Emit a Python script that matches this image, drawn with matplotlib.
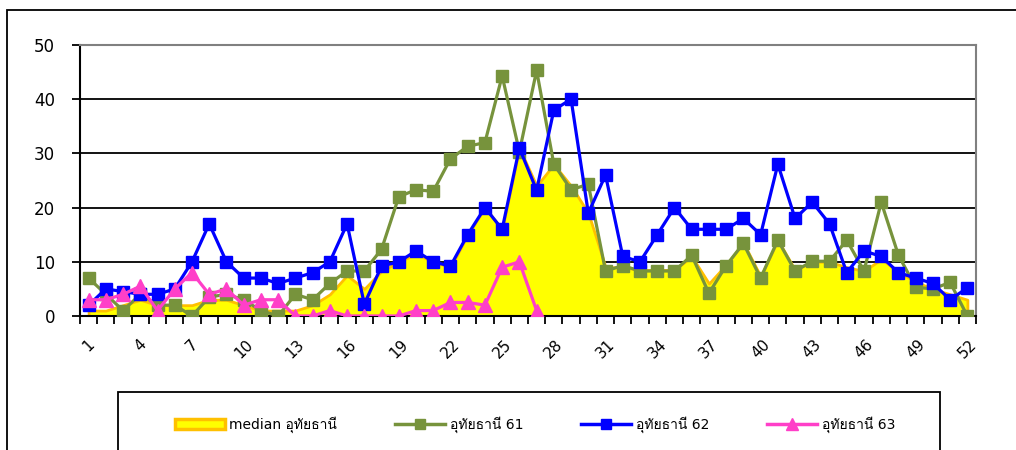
import matplotlib
matplotlib.use('Agg')
import matplotlib.pyplot as plt
from matplotlib import font_manager
from matplotlib.patches import Rectangle, Patch
from matplotlib.lines import Line2D
import numpy as np

# หาฟอนต์ที่มีอักษรไทย
thai_font = None
try:
    from fontTools.ttLib import TTFont
    for f in font_manager.fontManager.ttflist:
        try:
            tt = TTFont(f.fname, fontNumber=0, lazy=True)
            cmap = tt.getBestCmap()
            if cmap and ord('อ') in cmap and ord('ั') in cmap:
                thai_font = f.name
                break
        except Exception:
            continue
except Exception:
    pass

families = ['DejaVu Sans']
if thai_font:
    families.append(thai_font)
plt.rcParams['font.family'] = families

# ข้อมูล (อ่านจากกราฟ)
weeks = list(range(1, 53))
median_uthai = [1, 1, 2, 3, 2, 2, 2, 3, 3, 2, 1, 1, 1, 2, 4, 7.5, 5, 8.3, 10, 11.5,
                10, 9, 15, 20, 16, 31, 24, 28, 24, 19, 9, 9, 8.5, 8.5, 8.5, 11, 6, 9.5, 13.5, 7.3,
                14, 8.5, 10, 10, 9, 8.3, 10.5, 8.2, 6.3, 5, 4, 3]
uthai_61 = [7, 4, 1, 4, 2, 2, 0, 3.5, 4, 3, 1, 0, 4, 3, 6, 8.3, 8.3, 12.3, 22, 23.3,
            23, 29, 31.3, 32, 44.3, 30.3, 45.3, 28, 23.3, 24.3, 8.3, 9.3, 8.3, 8.3, 8.3, 11.2, 4.2, 9.3, 13.4, 7,
            14, 8.3, 10.1, 10.1, 14, 8.3, 21, 11.2, 5.3, 5, 6.2, 0]
uthai_62 = [2, 5, 4.5, 4, 4, 5, 10, 17, 10, 7, 7, 6, 7, 8, 10, 17, 2.2, 9.2, 10, 12,
            10, 9.2, 15, 20, 16, 31, 23.2, 38, 40, 19, 26, 11, 10, 15, 20, 16, 16, 16, 18, 15,
            28, 18, 21, 17, 8, 12, 11, 8, 7, 6, 3, 5.2]
uthai_63 = [3, 3, 4, 5.5, 1, 5, 8, 4, 5, 2, 3, 3, 0, 0, 1, 0, 0, 0, 0, 1,
            1, 2.5, 2.5, 2, 9, 10, 1]
xtick_labels = [str(w) for w in weeks[::3]]

fig = plt.figure(figsize=(10.16, 4.5), dpi=100)
ax = fig.add_axes([80/1016, 1-316/450, (976-80)/1016, (316-45)/450])

ax.fill_between(weeks, median_uthai, 0, color='#FFFF00', edgecolor='#FFC000',
                linewidth=2, zorder=2)
ax.plot(weeks, uthai_61, color='#77933C', lw=2.3, marker='s', ms=8, zorder=3)
ax.plot(weeks, uthai_62, color='#0000FF', lw=2.3, marker='s', ms=8, zorder=4)
ax.plot(weeks[:len(uthai_63)], uthai_63, color='#FF3FC8', lw=2.3, marker='^', ms=10, zorder=5)

ax.set_xlim(0.5, 52.5)
ax.set_ylim(0, 50)
ax.set_yticks(range(0, 51, 10))
ax.yaxis.grid(True, color='black', lw=1.3)
ax.set_axisbelow(True)
ax.tick_params(axis='y', direction='out', length=6, width=1.3, labelsize=12, pad=12)

ax.set_xticks(np.arange(0.5, 53, 1))
ax.set_xticklabels([])
ax.set_xticks(weeks[::3], minor=True)
ax.set_xticklabels(xtick_labels, minor=True, rotation=45, fontsize=11, ha='center', va='top')
ax.tick_params(axis='x', which='major', direction='out', length=6, width=1.3)
ax.tick_params(axis='x', which='minor', length=0, pad=15)

for s in ['left', 'bottom']:
    ax.spines[s].set_color('black')
    ax.spines[s].set_linewidth(1.5)
for s in ['top', 'right']:
    ax.spines[s].set_color('#808080')
    ax.spines[s].set_linewidth(1.5)

# กรอบรอบนอกและกรอบ legend
fig.patches.append(Rectangle((7/1016, -0.1), 1.2, 1-10/450+0.1, transform=fig.transFigure,
                             fill=False, edgecolor='black', lw=1.3))
fig.patches.append(Rectangle((118/1016, -0.1), (940-118)/1016, 1-392/450+0.1,
                             transform=fig.transFigure, fill=False, edgecolor='black', lw=1.3))

handles = [
    Patch(facecolor='#FFFF00', edgecolor='#FFC000', linewidth=2.5),
    Line2D([], [], color='#77933C', lw=2.5, marker='s', ms=7),
    Line2D([], [], color='#0000FF', lw=2.5, marker='s', ms=7),
    Line2D([], [], color='#FF3FC8', lw=2.5, marker='^', ms=8),
]
labels = ['median อุทัยธานี', 'อุทัยธานี 61', 'อุทัยธานี 62', 'อุทัยธานี 63']
fig.legend(handles, labels, loc='center', bbox_to_anchor=(535/1016, 1-425/450), ncol=4,
           frameon=False, fontsize=10, handlelength=3.6, columnspacing=4.2, handletextpad=0.3)

fig.savefig('out.png', dpi=100)
